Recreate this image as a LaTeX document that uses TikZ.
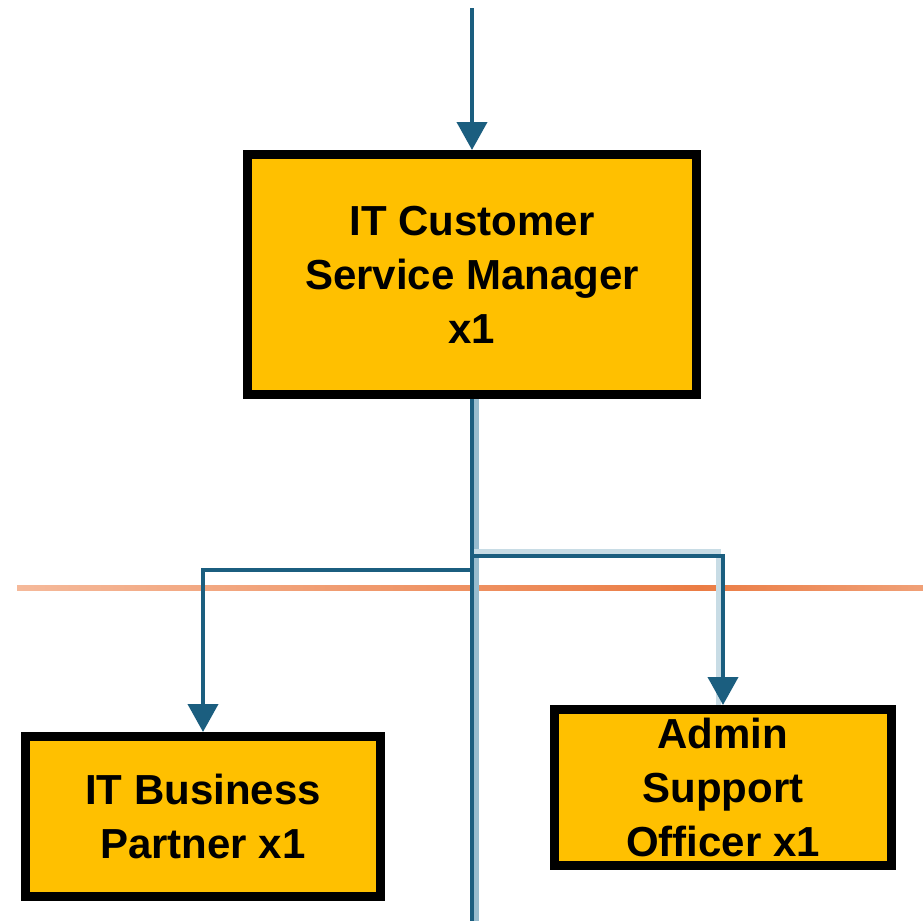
\documentclass[tikz,border=0pt]{standalone}
\usepackage{fontspec}
\setmainfont{Liberation Sans}
\usetikzlibrary{arrows.meta}
\definecolor{roleFill}{HTML}{FFC000}
\definecolor{linkBlue}{HTML}{1B5E7F}
\definecolor{linkPale}{HTML}{98BCCE}
\definecolor{linkFaint}{HTML}{C8DCE5}
\definecolor{bandLight}{HTML}{F5B99A}
\definecolor{bandDark}{HTML}{EB7C44}
\definecolor{bandEdge}{HTML}{F0A077}

\begin{document}
\begin{tikzpicture}[
    x=0.5pt, y=-0.5pt,
    roletext/.style={align=center, font=\fontsize{21}{27}\selectfont\bfseries},
    role/.style={roletext, rectangle, draw=black, fill=roleFill, line width=4.5pt},
    link/.style={draw=linkBlue, line width=2pt},
    head/.style={-{Triangle[width=15pt,length=14pt]}}
  ]
  \useasboundingbox (0,0) rectangle (923,921);

  \node[role, minimum width=224.5pt, minimum height=120pt] (manager) at (472,274.5)
    {IT Customer\\Service Manager\\x1};
  \node[role, minimum width=177.5pt, minimum height=80pt] (partner) at (203,816.5)
    {IT Business\\Partner x1};
  \node[role, minimum width=168.5pt, minimum height=78pt] (admin) at (723,787.5) {};
  \node[roletext] (adminText) at (admin) {Admin\\Support\\Officer x1};

  % divider
  \shade[left color=bandLight, right color=bandDark] (17,585) rectangle (700,590);
  \shade[left color=bandDark, right color=bandEdge] (700,585) rectangle (923,590);

  \coordinate (feed) at (472,8);
  \coordinate (floor) at (472,921);
  \coordinate (forkL) at (472,570);
  \coordinate (forkR) at (472,556);

  \draw[link, head] (feed) -- (manager.north);
  \draw[draw=linkPale, line width=2.5pt] ([xshift=2.25pt]manager.south) -- ([xshift=2.25pt]floor);
  \draw[link] (manager.south) -- (floor);
  \draw[link, head] (forkL) -| (partner.north);
  \draw[draw=linkFaint, line width=2.5pt] ([shift={(2,-4.5)}]forkR) -| ([xshift=-2.25pt]admin.north);
  \draw[link, head] (forkR) -| (admin.north);

\end{tikzpicture}
\end{document}
